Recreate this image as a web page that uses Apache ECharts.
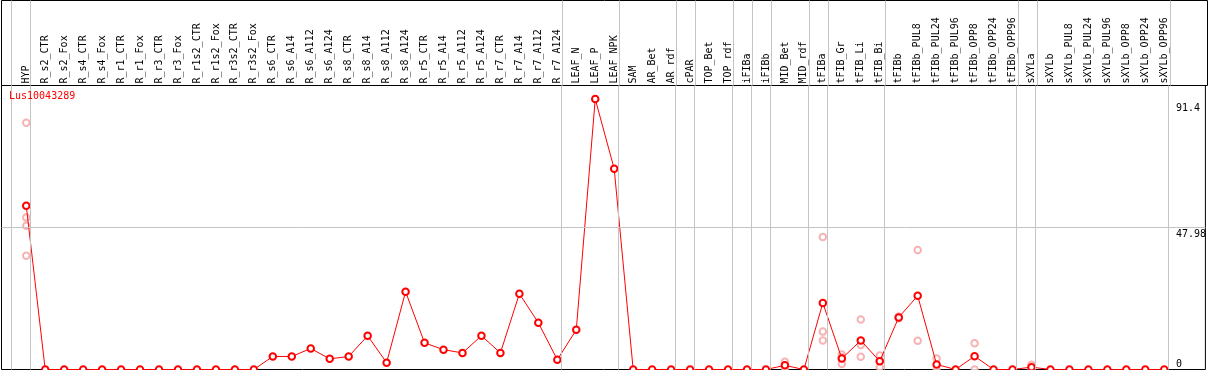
<!DOCTYPE html>
<html>
<head>
<meta charset="utf-8">
<script src="https://cdn.jsdelivr.net/npm/echarts@6/dist/echarts.min.js"></script>
<style>
  html, body { margin: 0; padding: 0; background: #fff; }
  #chart { width: 1209px; height: 370px; }
</style>
</head>
<body>
<div id="chart"></div>
<script>
// gene shown in the panel
const geneName = 'Lus10043289';

// samples, left to right
const categories = [
  'HYP',
  'R_s2_CTR', 'R_s2_Fox', 'R_s4_CTR', 'R_s4_Fox', 'R_r1_CTR', 'R_r1_Fox',
  'R_r3_CTR', 'R_r3_Fox', 'R_r1s2_CTR', 'R_r1s2_Fox', 'R_r3s2_CTR', 'R_r3s2_Fox',
  'R_s6_CTR', 'R_s6_A14', 'R_s6_A112', 'R_s6_A124',
  'R_s8_CTR', 'R_s8_A14', 'R_s8_A112', 'R_s8_A124',
  'R_r5_CTR', 'R_r5_A14', 'R_r5_A112', 'R_r5_A124',
  'R_r7_CTR', 'R_r7_A14', 'R_r7_A112', 'R_r7_A124',
  'LEAF_N', 'LEAF_P', 'LEAF_NPK',
  'SAM', 'AR_Bet', 'AR_rdf', 'cPAR', 'TOP_Bet', 'TOP_rdf', 'iFIBa', 'iFIBb',
  'MID_Bet', 'MID_rdf', 'tFIBa', 'tFIB_Gr', 'tFIB_Li', 'tFIB_Bi',
  'tFIBb', 'tFIBb_PUL8', 'tFIBb_PUL24', 'tFIBb_PUL96', 'tFIBb_OPP8', 'tFIBb_OPP24', 'tFIBb_OPP96',
  'sXYLa', 'sXYLb', 'sXYLb_PUL8', 'sXYLb_PUL24', 'sXYLb_PUL96', 'sXYLb_OPP8', 'sXYLb_OPP24', 'sXYLb_OPP96'
];

// mean expression per sample
const means = [
  55.3,
  0, 0, 0, 0, 0, 0,
  0, 0, 0, 0, 0, 0,
  4.4, 4.4, 7.1, 3.6,
  4.4, 11.4, 2.3, 26.3,
  9.0, 6.7, 5.6, 11.4,
  5.6, 25.6, 15.8, 3.3,
  13.4, 91.4, 67.8,
  0, 0, 0, 0, 0, 0, 0, 0,
  1.4, 0, 22.5, 3.7, 9.8, 2.8,
  17.6, 24.9, 1.7, 0, 4.5, 0, 0,
  0.8, 0, 0, 0, 0, 0, 0, 0
];

// individual replicates [sample index, value]
const replicates = [
  [0, 83.4], [0, 51.4], [0, 48.6], [0, 38.4],
  [40, 2.6], [40, 1.2], [40, 0.4],
  [42, 44.8], [42, 12.8], [42, 9.8],
  [43, 5.1], [43, 4.1], [43, 1.9],
  [44, 16.9], [44, 8.3], [44, 4.3],
  [45, 4.7], [45, 2.9], [45, 0.8],
  [46, 17.9], [46, 17.3],
  [47, 40.4], [47, 9.7],
  [48, 3.7], [48, 0],
  [50, 8.9], [50, 0],
  [53, 1.6], [53, 0]
];

// last sample index of each group (separator drawn after it)
const groupEnds = [-1, 0, 28, 31, 34, 35, 37, 38, 39, 41, 42, 45, 52, 53, 60];

// right-hand value labels
const yTicks = [0, 47.98, 91.4];
const yMax = 95.97;

const xMin = -1.305;
const xMax = 62.17;
const FONT = 'DejaVu Sans Mono';

const chart = echarts.init(document.getElementById('chart'));

const sepData = () => groupEnds.map((k) => ({ xAxis: k + 0.215 }));
const sepStyle = { color: '#c4c4c4', width: 1, type: 'solid' };

const hiddenAxis = {
  axisLine: { show: false }, axisTick: { show: false }, axisLabel: { show: false }, splitLine: { show: false }
};

const option = {
  animation: false,
  backgroundColor: '#fff',
  title: {
    text: geneName,
    left: 9,
    top: 91,
    padding: 0,
    textStyle: { color: '#ff0000', fontSize: 10, fontWeight: 'normal', fontFamily: FONT }
  },
  grid: [
    { left: 1.5, right: 1.5, top: 0.5, height: 85, show: true, borderColor: '#000', borderWidth: 1, backgroundColor: 'transparent' },
    { left: 1.5, right: 1.5, top: 85.5, bottom: 0.5, show: true, borderColor: '#000', borderWidth: 1, backgroundColor: 'transparent' }
  ],
  xAxis: [
    { gridIndex: 0, type: 'value', min: xMin, max: xMax, ...hiddenAxis },
    { gridIndex: 1, type: 'value', min: xMin, max: xMax, ...hiddenAxis },
    {
      gridIndex: 1, type: 'value', position: 'top', min: xMin, max: xMax,
      axisLine: { show: false }, axisTick: { show: false }, splitLine: { show: false },
      axisLabel: {
        customValues: categories.map((c, i) => i),
        rotate: 90,
        margin: 2,
        color: '#000',
        fontSize: 10,
        fontFamily: FONT,
        formatter: (v) => categories[Math.round(v)]
      }
    }
  ],
  yAxis: [
    { gridIndex: 0, type: 'value', min: 0, max: 1, ...hiddenAxis },
    {
      gridIndex: 1, type: 'value', min: 0, max: yMax, position: 'right',
      axisLine: { show: false }, axisTick: { show: false }, splitLine: { show: false },
      axisLabel: {
        customValues: yTicks.slice(1),
        inside: true,
        align: 'left',
        verticalAlign: 'top',
        margin: 29.5,
        color: '#000',
        fontSize: 10,
        fontFamily: FONT,
        formatter: (v) => (v === yTicks[2] ? '{hi|' + v + '}' : '{mid|' + v + '}'),
        rich: {
          hi: { padding: [4, 0, 0, 0], fontSize: 10, fontFamily: FONT, color: '#000' },
          mid: { padding: [2, 0, 0, 0], fontSize: 10, fontFamily: FONT, color: '#000' }
        }
      }
    },
    {
      gridIndex: 1, type: 'value', min: 0, max: yMax, position: 'right',
      axisLine: { show: false }, axisTick: { show: false }, splitLine: { show: false },
      axisLabel: {
        customValues: yTicks.slice(0, 1),
        inside: true,
        align: 'left',
        verticalAlign: 'bottom',
        margin: 29.5,
        color: '#000',
        fontSize: 10,
        fontFamily: FONT,
        formatter: (v) => String(v)
      }
    }
  ],
  series: [
    // header separators
    {
      type: 'line',
      xAxisIndex: 0,
      yAxisIndex: 0,
      data: categories.map((c, i) => [i, 0]),
      symbol: 'none',
      lineStyle: { opacity: 0 },
      silent: true,
      markLine: { silent: true, symbol: 'none', label: { show: false }, lineStyle: sepStyle, data: sepData() }
    },
    // plot separators + mid gridline
    {
      type: 'line',
      xAxisIndex: 1,
      yAxisIndex: 1,
      data: categories.map((c, i) => [i, 0]),
      symbol: 'none',
      lineStyle: { opacity: 0 },
      silent: true,
      z: 1,
      markLine: {
        silent: true,
        symbol: 'none',
        label: { show: false },
        lineStyle: sepStyle,
        data: [...sepData(), { yAxis: yTicks[1] }]
      }
    },
    // replicates
    {
      type: 'scatter',
      xAxisIndex: 1,
      yAxisIndex: 1,
      data: replicates,
      symbol: 'emptyCircle',
      symbolSize: 6.5,
      itemStyle: { color: '#f4a0a0', borderColor: '#f4a0a0', borderWidth: 1.2 },
      z: 2
    },
    // mean line
    {
      type: 'line',
      xAxisIndex: 1,
      yAxisIndex: 1,
      data: means.map((v, i) => [i, v]),
      symbol: 'emptyCircle',
      symbolSize: 6.5,
      clip: false,
      lineStyle: { color: '#ff0000', width: 1 },
      itemStyle: { color: '#ff0000', borderColor: '#ff0000', borderWidth: 1.4 },
      z: 3
    }
  ]
};

chart.setOption(option);
</script>
</body>
</html>
